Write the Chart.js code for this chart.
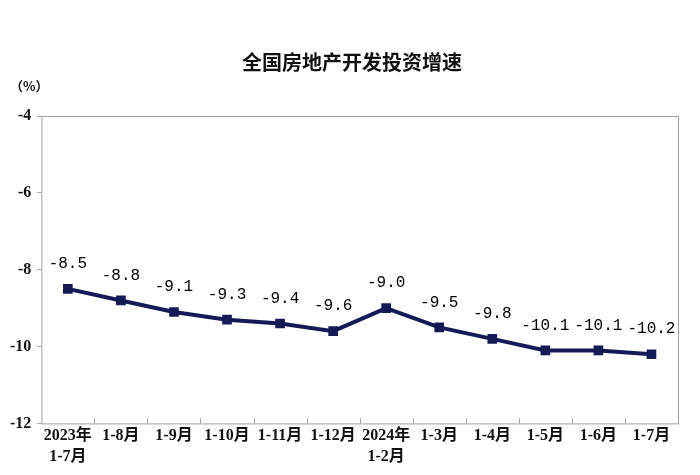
<!DOCTYPE html>
<html>
<head>
<meta charset="utf-8">
<script src="https://cdn.jsdelivr.net/npm/chart.js@4"></script>
<style>
  html, body { margin: 0; padding: 0; background: #fff; }
  #wrap { width: 700px; height: 475px; }
</style>
</head>
<body>
<div id="wrap"><canvas id="chart"></canvas></div>
<script>
const title = '全国房地产开发投资增速';
const unitLabel = '（%）';
const months = [
    ['2023年', '1-7月'], '1-8月', '1-9月', '1-10月', '1-11月', '1-12月',
    ['2024年', '1-2月'], '1-3月', '1-4月', '1-5月', '1-6月', '1-7月'
];
const growth = [-8.5, -8.8, -9.1, -9.3, -9.4, -9.6, -9.0, -9.5, -9.8, -10.1, -10.1, -10.2];
const yTicks = [-12, -10, -8, -6, -4];

const lineColor = '#141a56';
const serif = '"Liberation Serif", "Noto Sans CJK SC", serif';

// frame, inner ticks, title and value labels
const decorations = {
    id: 'decorations',
    afterDraw(chart) {
        const ctx = chart.ctx;
        const area = chart.chartArea;
        const x = chart.scales.x;
        ctx.save();

        ctx.strokeStyle = '#a0a0a0';
        ctx.lineWidth = 1;
        ctx.strokeRect(area.left + 0.5, area.top + 0.5, area.width, area.height);

        // category separator ticks on the bottom edge
        ctx.beginPath();
        for (let i = 1; i < months.length; i++) {
            const px = Math.round(x.getPixelForValue(i - 0.5)) + 0.5;
            ctx.moveTo(px, area.bottom);
            ctx.lineTo(px, area.bottom - 5);
        }
        ctx.stroke();

        ctx.fillStyle = '#111';
        ctx.textAlign = 'center';
        ctx.textBaseline = 'middle';
        ctx.font = 'bold 20px "Noto Sans CJK SC", sans-serif';
        ctx.fillText(title, 352, 62);

        ctx.font = 'bold 13px "Noto Sans CJK SC", serif';
        ctx.textAlign = 'left';
        ctx.fillText(unitLabel, 10, 86);

        // value labels above each point
        const meta = chart.getDatasetMeta(0);
        ctx.font = '16px "Liberation Mono", monospace';
        ctx.textAlign = 'center';
        ctx.fillStyle = '#000';
        meta.data.forEach((pt, i) => {
            ctx.fillText(growth[i].toFixed(1), pt.x, pt.y - 25);
        });
        ctx.restore();
    }
};

new Chart(document.getElementById('chart'), {
    type: 'line',
    data: {
        labels: months,
        datasets: [{
            data: growth,
            borderColor: lineColor,
            backgroundColor: lineColor,
            borderWidth: 4,
            pointStyle: 'rect',
            pointRadius: 4,
            pointHoverRadius: 4,
            fill: false,
            tension: 0
        }]
    },
    options: {
        responsive: true,
        maintainAspectRatio: false,
        animation: false,
        layout: { padding: { top: 116, left: 4, right: 22, bottom: 6 } },
        plugins: {
            legend: { display: false },
            tooltip: { enabled: false }
        },
        scales: {
            x: {
                offset: true,
                grid: { display: false, drawTicks: false },
                border: { display: false },
                ticks: {
                    autoSkip: false,
                    maxRotation: 0,
                    padding: 2,
                    color: '#111',
                    font: { family: serif, size: 16, weight: 'bold', lineHeight: 1.3 }
                }
            },
            y: {
                min: -12,
                max: -4,
                afterBuildTicks: (axis) => { axis.ticks = yTicks.map(v => ({ value: v })); },
                grid: { drawOnChartArea: false, drawTicks: true, tickLength: 4, color: '#a0a0a0' },
                border: { display: false },
                ticks: {
                    padding: 6,
                    color: '#111',
                    font: { family: serif, size: 16, weight: 'bold' }
                }
            }
        }
    },
    plugins: [decorations]
});
</script>
</body>
</html>
